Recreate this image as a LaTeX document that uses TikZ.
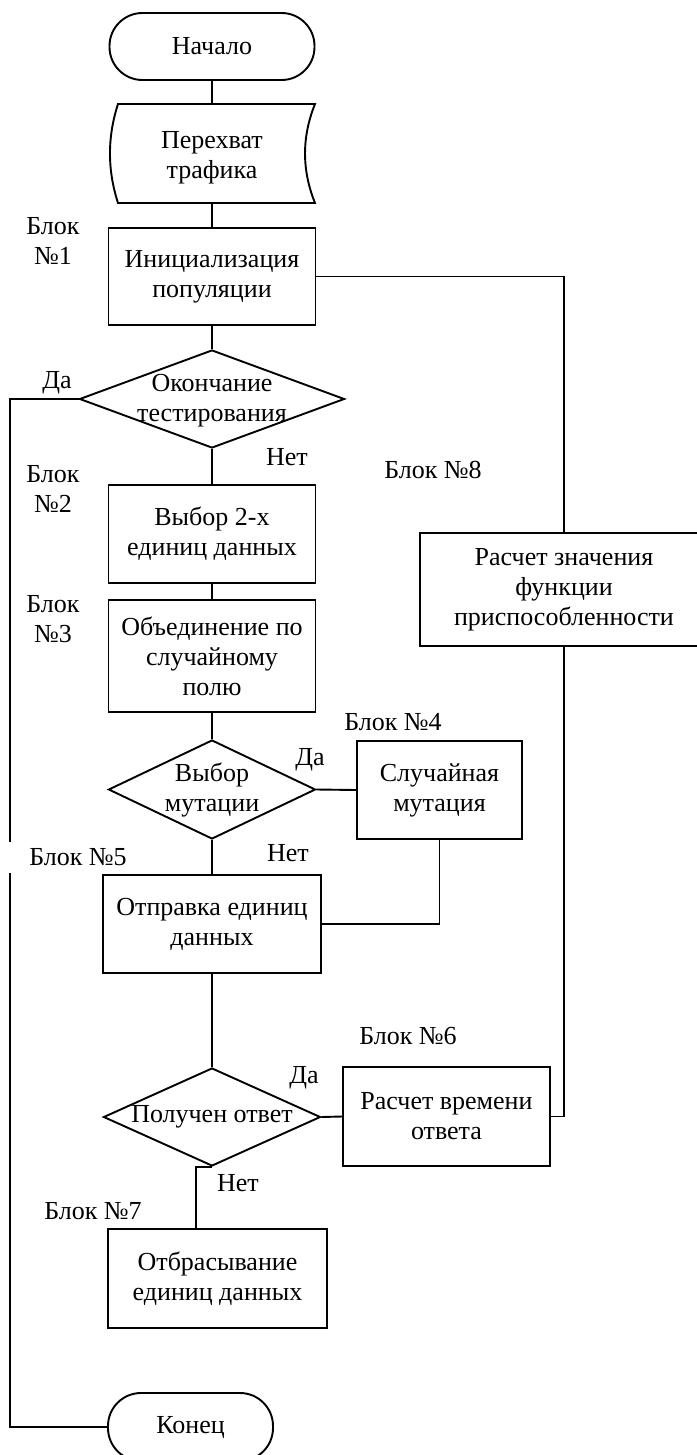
\documentclass[tikz,border=0pt]{standalone}
\usepackage{fontspec}
\setmainfont{Liberation Serif}
\usetikzlibrary{shapes.geometric}
\begin{document}
\begin{tikzpicture}[x=1pt,y=-1pt,
  every node/.style={font=\fontsize{26pt}{30pt}\selectfont},
  ln/.style={line width=1.9pt},
  box/.style={draw, ln, rectangle, inner sep=0pt, align=center},
  term/.style={draw, ln, rectangle, rounded corners=33pt, inner sep=0pt, align=center},
  dia/.style={draw, ln, diamond, inner sep=0pt},
  txt/.style={inner sep=0pt, align=center},
  lbl/.style={inner sep=0pt, align=center}]
\useasboundingbox (0,0) rectangle (696,1455);

% main column
\node[term, minimum width=205pt, minimum height=67pt] (start) at (212,46.5) {Начало};
\node[txt, minimum width=205pt, minimum height=99pt] (b0) at (212,153.5) {};
\node[txt] (b0t) at (212,158) {Перехват\\трафика};
\draw[ln] (118,104) -- (315,104) .. controls (301.7,137) and (301.7,170) .. (315,203)
  -- (118,203) .. controls (107.3,170) and (107.3,137) .. (118,104) -- cycle;
\node[box, minimum width=207pt, minimum height=97pt] (b1) at (212,276.5) {Инициализация\\популяции};
\node[dia, minimum width=265pt, minimum height=98pt] (d1) at (212,399) {};
\node[txt] (d1t) at (212,401) {Окончание\\тестирования};
\node[box, minimum width=207pt, minimum height=98pt] (b2) at (212,534) {Выбор 2-х\\единиц данных};
\node[box, minimum width=207pt, minimum height=112pt] (b3) at (212,656) {Объединение по\\случайному\\полю};
\node[dia, minimum width=207pt, minimum height=99pt] (d2) at (212,789.5) {};
\node[txt] (d2t) at (212,790) {Выбор\\мутации};
\node[box, minimum width=165pt, minimum height=98pt] (b4) at (439.5,790) {Случайная\\мутация};
\node[box, minimum width=218pt, minimum height=98pt] (b5) at (212,924) {Отправка единиц\\данных};
\node[dia, minimum width=217pt, minimum height=98pt] (d3) at (212,1117) {};
\node[txt] (d3t) at (212,1117) {Получен ответ};
\node[box, minimum width=207pt, minimum height=99pt] (b6) at (446.5,1116.5) {Расчет времени\\ответа};
\node[box, minimum width=219pt, minimum height=99pt] (b7) at (217.5,1278.5) {Отбрасывание\\единиц данных};
\node[term, minimum width=165pt, minimum height=68pt] (fin) at (190.5,1427) {Конец};
\node[box, minimum width=288pt, minimum height=113pt] (b8) at (564,589.5) {Расчет значения\\функции\\приспособленности};

\coordinate (lft) at (10,1427);
\coordinate (jog) at (196,1229);

% connectors
\draw[ln] (start) -- (b0);
\draw[ln] (b0) -- (b1);
\draw[ln] (b1) -- (d1);
\draw[ln] (b1.east) -| (b8.north);
\draw[ln] (b8.south) |- (b6.east);
\draw[ln] (d1.west) -| (lft) -- (fin.west);
\draw[ln] (d1) -- (b2);
\draw[ln] (b2) -- (b3);
\draw[ln] (b3) -- (d2);
\draw[ln] (d2.east) -- (b4.west);
\draw[ln] (b4.south) |- (b5.east);
\draw[ln] (d2) -- (b5);
\draw[ln] (b5) -- (d3);
\draw[ln] (d3.east) -- (b6.west);
\draw[ln] (d3.south) -| (jog);

% labels
\node[lbl] (l1) at (53,241) {Блок\\№1};
\node[lbl] (l2) at (53,489) {Блок\\№2};
\node[lbl] (l3) at (53,619) {Блок\\№3};
\node[lbl] (yes1) at (57,383) {Да};
\node[lbl] (no1) at (287,457) {Нет};
\node[lbl] (l8) at (433,470) {Блок №8};
\node[lbl] (l4) at (393,722) {Блок №4};
\node[lbl] (yes2) at (310,760) {Да};
\node[lbl] (no2) at (288,853) {Нет};
\node[lbl, fill=white, minimum width=148pt, minimum height=31pt] (l5) at (78,857.5) {Блок №5};
\node[lbl] (l6) at (408,1036) {Блок №6};
\node[lbl] (yes3) at (304,1078) {Да};
\node[lbl] (no3) at (238,1183) {Нет};
\node[lbl] (l7) at (93,1211) {Блок №7};
\end{tikzpicture}
\end{document}
